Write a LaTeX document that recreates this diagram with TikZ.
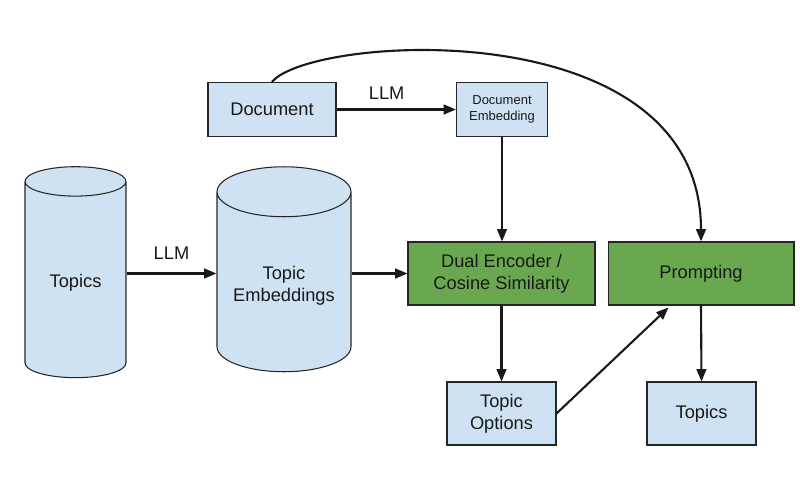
\documentclass[tikz,border=0pt]{standalone}
\usepackage{fontspec}
\setmainfont{Liberation Sans}
\usetikzlibrary{arrows.meta,positioning,shapes.geometric}
\definecolor{boxblue}{HTML}{CFE2F3}
\definecolor{boxgreen}{HTML}{6AA84F}

\tikzset{
  bluebox/.style={draw=black!85, fill=boxblue, line width=0.6pt, align=center,
    text=black!90, inner sep=2pt, font=\fontsize{10.4}{12.6}\selectfont},
  greenbox/.style={bluebox, fill=boxgreen},
  store/.style={bluebox, cylinder, shape border rotate=90},
  flow/.style={-{Triangle[length=7pt,width=5.5pt]}, line width=1.2pt, draw=black!90},
  lbl/.style={font=\fontsize{10.4}{12.6}\selectfont, text=black!90},
}

\begin{document}
\begin{tikzpicture}[x=0.02cm,y=-0.02cm]
    \useasboundingbox (0,0) rectangle (800,489);
    % Inputs
    \node[bluebox, minimum width=2.56cm, minimum height=1.08cm] (doc) at (272,109.5) {Document};
    \node[bluebox, font=\fontsize{7.4}{9.4}\selectfont, minimum width=1.82cm, minimum height=1.08cm] (docemb) at (502,109.5) {Document\\Embedding};
    \node[store, minimum width=2.02cm, minimum height=4.22cm, aspect=0.5] (topics) at (75.5,282.5) {Topics};
    \node[store, minimum width=2.68cm, minimum height=4.1cm, aspect=0.46] (topicemb) at (284,286) {Topic\\Embeddings};
    % Matching
    \node[greenbox, minimum width=3.74cm, minimum height=1.26cm] (dual) at (501.5,273.5) {Dual Encoder /\\Cosine Similarity};
    \node[greenbox, minimum width=3.72cm, minimum height=1.26cm] (prompt) at (701,273.5) {Prompting};
    % Outputs
    \node[bluebox, minimum width=2.18cm, minimum height=1.26cm] (options) at (501.5,413.5) {Topic\\Options};
    \node[bluebox, minimum width=2.18cm, minimum height=1.26cm] (result) at (701.5,413.5) {Topics};
    % Arrows
    \draw[flow] (doc) -- node[lbl, pos=0.42, above=2pt]{LLM} (docemb);
    \draw[flow] (topics.east |- dual.west) -- node[lbl, midway, above=4pt]{LLM} (topicemb.west |- dual.west);
    \draw[flow] (dual.west -| topicemb.east) -- (dual.west);
    \draw[flow] (docemb.south) -- (docemb.south |- dual.north);
    \draw[flow] (dual.south) -- (options.north);
    \draw[flow] (options.east) -- ([xshift=1.22cm,yshift=-0.04cm]prompt.south west);
    \draw[flow] (prompt.south) -- (result.north);
    \draw[flow] (doc.north) .. controls +(38,-47) and +(0,-232) .. (prompt.north);
\end{tikzpicture}
\end{document}
